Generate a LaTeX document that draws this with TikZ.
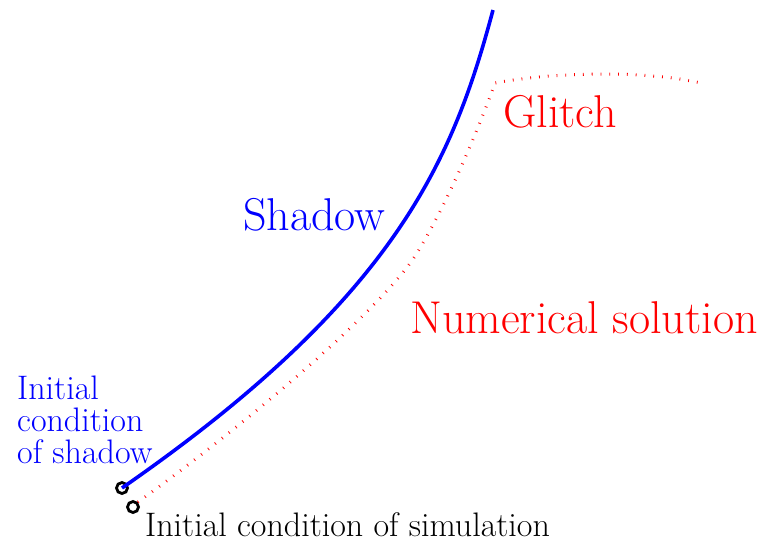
\documentclass[tikz,border=0pt]{standalone}
\usepackage{fontspec}
\usepackage{xcolor}
\usetikzlibrary{positioning, calc}
\definecolor{shadowc}{RGB}{0,0,255}
\definecolor{numc}{RGB}{255,0,0}

\begin{document}
\begin{tikzpicture}[x=1pt, y=-1pt,
  big/.style={font=\fontsize{46}{52}\selectfont, inner sep=0pt},
  small/.style={font=\fontsize{34}{32}\selectfont, inner sep=0pt},
  startpt/.style={circle, draw=black, line width=2.8pt, minimum size=11pt, inner sep=0pt}]

\useasboundingbox (0,0) rectangle (760,542);

%% -- initial conditions ---------------------------------------------
\node[startpt] (icshadow) at (122,488) {};
\node[startpt] (icsim) at (133,507) {};
\coordinate (shadowtop) at (493,10);
\coordinate (glitchpt) at (495,83);
\coordinate (numend) at (705,84);

%% -- numerical solution (dotted) -----------------------------------
\draw[numc, line width=3pt, dash pattern=on 0.8pt off 8pt]
  (icsim.north east) .. controls (253,419) and (384,306.5) .. (417,253)
  .. controls (450,199.5) and (482.5,118) .. (glitchpt)
  .. controls (540,74) and (640,68) .. (numend);

%% -- shadow -------------------------------------------------------
\draw[shadowc, line width=3.6pt]
  (icshadow.center) .. controls (396,298) and (453,160) .. (shadowtop);

%% -- labels --------------------------------------------------------
\node[big, text=numc, anchor=base west] (glitch) at (503,127) {Glitch};
\node[big, text=shadowc, anchor=base west] (shadow) at (243,230) {Shadow};
\node[big, text=numc, anchor=base west] (numsol) at (410,333) {Numerical solution};
\node[small, text=shadowc, anchor=base west, align=left] (icshadowlbl) at (17,463)
  {Initial\\condition\\of shadow};
\node[small, text=black, anchor=base west] (icsimlbl) at (145,536)
  {Initial condition of simulation};

\end{tikzpicture}
\end{document}
